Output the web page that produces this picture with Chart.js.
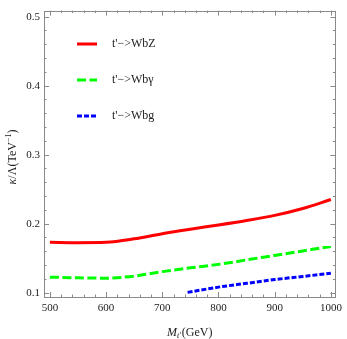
<!DOCTYPE html>
<html><head><meta charset="utf-8">
<script src="https://cdn.jsdelivr.net/npm/chart.js@4/dist/chart.umd.min.js"></script>
<style>html,body{margin:0;padding:0;background:#fff;}#wrap{width:347px;height:339px;}</style>
</head><body><div id="wrap"><canvas id="c" width="347" height="339"></canvas></div>
<script>
const massesZ = [500,550,600,650,700,750,800,850,900,950,1000];
const kappaWbZ = [0.173,0.1725,0.173,0.178,0.1855,0.192,0.198,0.2045,0.212,0.222,0.235];
const massesG = [500,550,600,650,700,750,800,850,900,950,1000];
const kappaWbGamma = [0.1225,0.1215,0.121,0.124,0.1305,0.136,0.141,0.1475,0.154,0.1605,0.167];
const massesGl = [745,800,850,900,950,1000];
const kappaWbg = [0.1004,0.108,0.1135,0.119,0.1235,0.128];
const xTickVals = [500,600,700,800,900,1000];
const yTickVals = [0.1,0.2,0.3,0.4,0.5];
const seriesNames = ["t'\u2212>WbZ","t'\u2212>Wb\u03b3","t'\u2212>Wbg"];

const pts = (xs, ys) => xs.map((x,i)=>({x, y: ys[i]}));
const FRAME = '#8a8a8a';
const SERIF = '"Liberation Serif","DejaVu Serif",serif';

const framePlugin = {
  id: 'frame',
  afterDraw(chart) {
    const {ctx, chartArea: a, scales: {x, y}} = chart;
    ctx.save();
    ctx.strokeStyle = FRAME; ctx.lineWidth = 1;
    ctx.strokeRect(Math.round(a.left)+0.5, Math.round(a.top)+0.5, Math.round(a.right-a.left), Math.round(a.bottom-a.top));
    ctx.beginPath();
    for (let v = 500; v <= 1000; v += 20) {
      const px = Math.round(x.getPixelForValue(v)) + 0.5;
      const L = (v % 100 === 0) ? 5 : 2.5;
      ctx.moveTo(px, a.bottom); ctx.lineTo(px, a.bottom - L);
      ctx.moveTo(px, a.top); ctx.lineTo(px, a.top + L);
    }
    for (let k = 5; k <= 25; k++) {
      const v = k * 0.02;
      const py = Math.round(y.getPixelForValue(v)) + 0.5;
      const L = (k % 5 === 0) ? 5 : 2.5;
      ctx.moveTo(a.left, py); ctx.lineTo(a.left + L, py);
      ctx.moveTo(a.right, py); ctx.lineTo(a.right - L, py);
    }
    ctx.stroke();

    // legend
    const cols = ['#ff0000','#00ff00','#0000ff'];
    const dashes = [[], [9,3.5], [5,2]];
    const rows = [44, 80, 116];
    for (let i = 0; i < 3; i++) {
      ctx.beginPath();
      ctx.strokeStyle = cols[i]; ctx.lineWidth = 3; ctx.lineCap = 'butt';
      ctx.setLineDash(dashes[i]);
      ctx.moveTo(77, rows[i]); ctx.lineTo(97, rows[i]);
      ctx.stroke();
      ctx.setLineDash([]);
      ctx.fillStyle = '#222';
      ctx.font = '12px ' + SERIF;
      ctx.textBaseline = 'middle'; ctx.textAlign = 'left';
      ctx.fillText(seriesNames[i], 112, rows[i]);
    }

    // x title: M_t'(GeV)
    ctx.fillStyle = '#222';
    ctx.textBaseline = 'alphabetic';
    const fM = 'italic 12px ' + SERIF, fs = 'italic 8px ' + SERIF, fr = '12px ' + SERIF;
    ctx.font = fM; const wM = ctx.measureText('M').width;
    ctx.font = fs; const wS = ctx.measureText("t'").width;
    ctx.font = fr; const wR = ctx.measureText('(GeV)').width;
    let sx = (a.left + a.right)/2 - (wM + wS + 1 + wR)/2;
    const by = 336;
    ctx.font = fM; ctx.fillText('M', sx, by); sx += wM;
    ctx.font = fs; ctx.fillText("t'", sx, by + 2); sx += wS + 1;
    ctx.font = fr; ctx.fillText('(GeV)', sx, by);

    // y title: κ/Λ(TeV^-1)
    ctx.save();
    ctx.translate(16, 157);
    ctx.rotate(-Math.PI/2);
    const parts = [['italic 12px '+SERIF,'\u03ba',0],['12px '+SERIF,'/\u039b(TeV',0],['8px '+SERIF,'\u22121',-5],['12px '+SERIF,')',0]];
    let tot = 0;
    parts.forEach(p=>{ctx.font=p[0]; p.w=ctx.measureText(p[1]).width; tot+=p.w;});
    let tx = -tot/2;
    parts.forEach(p=>{ctx.font=p[0]; ctx.fillText(p[1], tx, p[2]); tx+=p.w;});
    ctx.restore();
    ctx.restore();
  }
};

new Chart(document.getElementById('c'), {
  type: 'line',
  data: {
    datasets: [
      {label: seriesNames[0], data: pts(massesZ, kappaWbZ), borderColor:'#ff0000', borderWidth:3, pointRadius:0, cubicInterpolationMode:'monotone', fill:false},
      {label: seriesNames[1], data: pts(massesG, kappaWbGamma), borderColor:'#00ff00', borderWidth:3, borderDash:[9,3.5], pointRadius:0, cubicInterpolationMode:'monotone', fill:false},
      {label: seriesNames[2], data: pts(massesGl, kappaWbg), borderColor:'#0000ff', borderWidth:3, borderDash:[5,2], pointRadius:0, cubicInterpolationMode:'monotone', fill:false}
    ]
  },
  options: {
    responsive: false, animation: false, devicePixelRatio: 1,
    layout: {padding: {top: 2, right: 7, left: 0, bottom: 0}},
    plugins: {legend: {display:false}, tooltip: {enabled:false}},
    scales: {
      x: {
        type: 'linear', min: 489.5, max: 1008,
        grid: {display:false, drawTicks:false}, border: {display:false},
        afterBuildTicks: s => { s.ticks = xTickVals.map(v=>({value:v})); },
        afterFit: s => { s.height = 42; },
        ticks: {color:'#222', padding: 5, maxRotation:0, autoSkip:false, font:{family:SERIF, size:11}, callback: v => String(v)}
      },
      y: {
        type: 'linear', min: 0.0937, max: 0.5088,
        grid: {display:false, drawTicks:false}, border: {display:false},
        afterBuildTicks: s => { s.ticks = yTickVals.map(v=>({value:v})); },
        afterFit: s => { s.width = 44; },
        ticks: {color:'#222', padding: 4, autoSkip:false, font:{family:SERIF, size:11}, callback: v => Number(v).toFixed(1)}
      }
    }
  },
  plugins: [framePlugin]
});
</script></body></html>
